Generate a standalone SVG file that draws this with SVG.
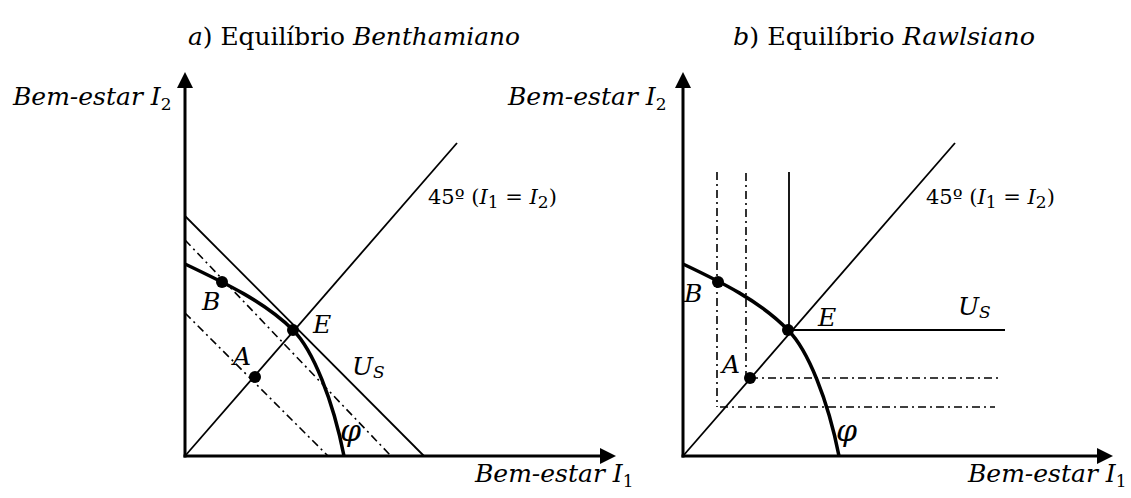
<svg xmlns="http://www.w3.org/2000/svg" width="1131" height="498" viewBox="0 0 1131 498">
<style>
text{font-family:"DejaVu Serif","Liberation Serif","Noto Serif",serif;fill:#000}
.t{font-size:25px}
.lab{font-size:25px;font-style:italic}
.pt{font-size:25px;font-style:italic}
.phil{font-size:30px;font-style:italic}
.deg{font-size:21px}
.sub{font-size:17px;font-style:normal}
.subi{font-size:17px;font-style:italic}
.it{font-style:italic}
.axis{stroke:#000;stroke-width:3;fill:none}
.thin{stroke:#000;stroke-width:1.8;fill:none}
.dd{stroke:#000;stroke-width:1.6;fill:none;stroke-dasharray:8 4 2 4}
.phi{stroke:#000;stroke-width:3.5;fill:none}
</style>
<defs>
<marker id="arr" viewBox="0 0 16 16" refX="0" refY="8" markerWidth="16" markerHeight="16" orient="auto" markerUnits="userSpaceOnUse"><path d="M0,0 L16,8 L0,16 z" fill="#000"/></marker>
</defs>
<g id="titles">
<text class="t" x="188" y="45" textLength="332" lengthAdjust="spacingAndGlyphs"><tspan class="it">a</tspan>) Equilíbrio <tspan class="it">Benthamiano</tspan></text>
<text class="t" x="733" y="45" textLength="302" lengthAdjust="spacingAndGlyphs"><tspan class="it">b</tspan>) Equilíbrio <tspan class="it">Rawlsiano</tspan></text>
</g>
<g id="panel-a">
<g id="axes-a">
<line class="axis" x1="185" y1="457.5" x2="185" y2="88" marker-end="url(#arr)"/>
<line class="axis" x1="183.5" y1="456" x2="600" y2="456" marker-end="url(#arr)"/>
<text class="lab" x="13" y="105">Bem-estar I<tspan class="sub" dy="5">2</tspan></text>
<text class="lab" x="475" y="482">Bem-estar I<tspan class="sub" dy="5">1</tspan></text>
</g>
<g id="lines-a">
<line class="thin" x1="185" y1="456" x2="457" y2="143"/>
<line class="thin" x1="185" y1="216" x2="424" y2="456"/>
<line class="dd" x1="185" y1="240" x2="391" y2="456"/>
<line class="dd" x1="185" y1="313" x2="328" y2="456"/>
<path class="phi" d="M185,264 C225,283 265,302 293,330 C313,350 333,400 344,456"/>
<text class="deg" x="428" y="204">45º (<tspan class="it">I</tspan><tspan class="sub" dy="4">1</tspan><tspan dy="-4"> = </tspan><tspan class="it">I</tspan><tspan class="sub" dy="4">2</tspan><tspan dy="-4">)</tspan></text>
</g>
<g id="points-a">
<circle cx="222" cy="282" r="6"/>
<circle cx="293" cy="330" r="6"/>
<circle cx="255" cy="377" r="6"/>
<text class="pt" x="202" y="310">B</text>
<text class="pt" x="233" y="365">A</text>
<text class="pt" x="313" y="333">E</text>
<text class="pt" x="352" y="375">U<tspan class="subi" dy="3">S</tspan></text>
<text class="phil" x="340" y="441">φ</text>
</g>
</g>
<g id="panel-b">
<g id="axes-b">
<line class="axis" x1="683" y1="457.5" x2="683" y2="88" marker-end="url(#arr)"/>
<line class="axis" x1="681.5" y1="456" x2="1097" y2="456" marker-end="url(#arr)"/>
<text class="lab" x="508" y="105">Bem-estar I<tspan class="sub" dy="5">2</tspan></text>
<text class="lab" x="968" y="482">Bem-estar I<tspan class="sub" dy="5">1</tspan></text>
</g>
<g id="lines-b">
<line class="thin" x1="683" y1="456" x2="955" y2="143"/>
<line class="thin" x1="789" y1="172" x2="789" y2="330"/>
<line class="thin" x1="789" y1="330" x2="1005" y2="330"/>
<line class="dd" x1="717" y1="172" x2="717" y2="407"/>
<line class="dd" x1="746" y1="173" x2="746" y2="378"/>
<line class="dd" x1="750" y1="378" x2="1000" y2="378"/>
<line class="dd" x1="720" y1="407" x2="995" y2="407"/>
<path class="phi" d="M683,264 C721,282 760,301 788,330 C808,350 828,400 839,456"/>
<text class="deg" x="926" y="204">45º (<tspan class="it">I</tspan><tspan class="sub" dy="4">1</tspan><tspan dy="-4"> = </tspan><tspan class="it">I</tspan><tspan class="sub" dy="4">2</tspan><tspan dy="-4">)</tspan></text>
</g>
<g id="points-b">
<circle cx="718" cy="282" r="6"/>
<circle cx="788" cy="330" r="6"/>
<circle cx="750" cy="378" r="6"/>
<text class="pt" x="684" y="302">B</text>
<text class="pt" x="722" y="373">A</text>
<text class="pt" x="818" y="326">E</text>
<text class="pt" x="958" y="315">U<tspan class="subi" dy="3">S</tspan></text>
<text class="phil" x="836" y="441">φ</text>
</g>
</g>
</svg>
